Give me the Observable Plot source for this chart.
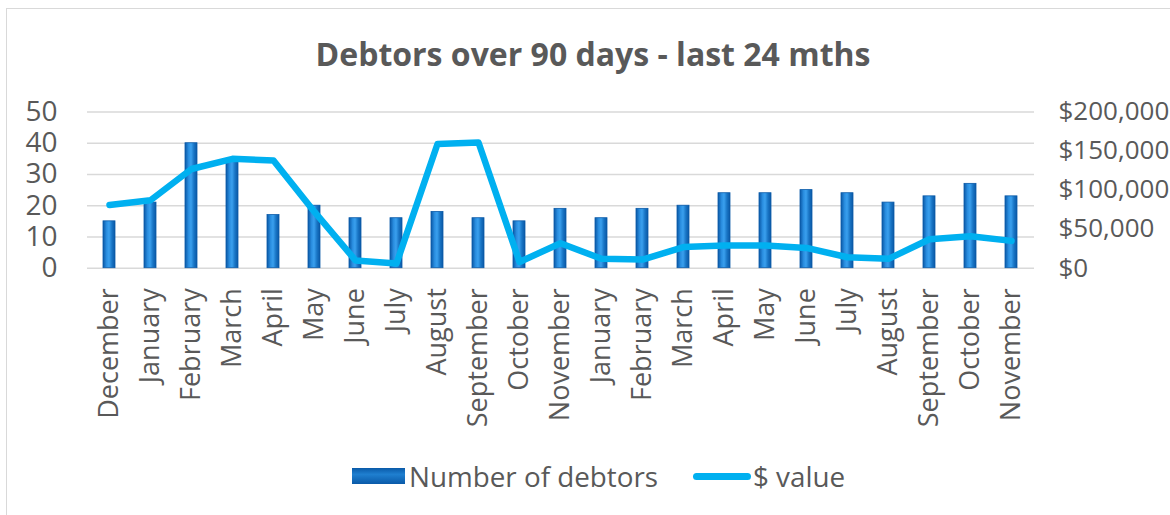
<!DOCTYPE html>
<html>
<head>
<meta charset="utf-8">
<script src="https://cdn.jsdelivr.net/npm/d3@7"></script>
<script src="https://cdn.jsdelivr.net/npm/@observablehq/plot@0.6"></script>
<style>
  html, body { margin: 0; padding: 0; background: #fff; }
  body { width: 1170px; height: 515px; overflow: hidden; position: relative; font-family: "Open Sans", sans-serif; color: #595959; }
  #frame { position: absolute; left: 6px; top: 8px; width: 1180px; height: 520px; border: 1.5px solid #d9d9d9; box-sizing: border-box; }
  #title { position: absolute; left: 8px; width: 1170px; top: 34px; text-align: center; font-size: 32px; font-weight: 700; line-height: 40px; color: #595959; }
  #chart { position: absolute; left: 0; top: 0; }
  .leg { position: absolute; font-size: 27.8px; line-height: 36px; color: #595959; top: 458px; }
  #sw1 { position: absolute; left: 352px; top: 468px; width: 53px; height: 16px; background: linear-gradient(to bottom, #0a5aa8, #1f7fd0 40%, #0a5aa8); }
  #sw2 { position: absolute; left: 693px; top: 473px; width: 58px; height: 7px; border-radius: 4px; background: #00b0f0; }
</style>
</head>
<body>
<div id="frame"></div>
<div id="chart"></div>
<div id="title">Debtors over 90 days - last 24 mths</div>
<div id="sw1"></div><div class="leg" style="left:409px">Number of debtors</div>
<div id="sw2"></div><div class="leg" style="left:753px">$ value</div>
<script>
const months = ["December","January","February","March","April","May","June","July","August","September","October","November","January","February","March","April","May","June","July","August","September","October","November"];
const debtors = [15,21,40,35,17,20,16,16,18,16,15,19,16,19,20,24,24,25,24,21,23,27,23];
const dollars = [81000,87000,127000,140000,138000,72000,10000,6000,159000,161000,8000,32000,12000,11000,27000,29000,29000,26000,14000,12000,37000,41000,35000];
const leftTicks = [0,10,20,30,40,50];
const rightTicks = [0,50000,100000,150000,200000];
const leftMax = 50, rightMax = 200000;

const ratio = leftMax / rightMax;
const idx = d3.range(months.length);
const rows = idx.map(i => ({i, n: debtors[i], v: dollars[i] * ratio}));

const plot = Plot.plot({
  width: 1170,
  height: 440,
  marginLeft: 87,
  marginRight: 136,
  marginTop: 111.5,
  marginBottom: 172.3,
  style: {fontFamily: "'Open Sans', sans-serif", color: "#595959", background: "transparent", overflow: "visible"},
  x: {type: "band", domain: idx, padding: 0.7, paddingOuter: 0.35, axis: null, label: null},
  y: {domain: [0, leftMax], axis: null, label: null},
  marks: [
    Plot.ruleY(leftTicks, {stroke: "#d9d9d9", strokeWidth: 1.5}),
    Plot.barY(rows, {x: "i", y: "n", fill: "url(#barGrad)", stroke: "#0a5aa8", strokeWidth: 0.8}),
    Plot.line(rows, {x: "i", y: "v", stroke: "#00b0f0", strokeWidth: 6.5, strokeLinejoin: "round", strokeLinecap: "round"}),
    Plot.axisY({anchor: "left", label: null, ticks: leftTicks, tickSize: 0, tickPadding: 30, fontSize: 28, fill: "#595959"}),
    Plot.axisY({anchor: "right", label: null, ticks: rightTicks.map(t => t * ratio), tickSize: 0, tickPadding: 24, fontSize: 26, fill: "#595959",
      tickFormat: d => "$" + d3.format(",")(Math.round(d / ratio))}),
    Plot.axisX({anchor: "bottom", label: null, tickSize: 0, tickPadding: 20, tickRotate: -90, fontSize: 27, fill: "#595959",
      tickFormat: i => months[i]})
  ]
});

const ns = "http://www.w3.org/2000/svg";
const defs = document.createElementNS(ns, "defs");
defs.innerHTML = `<linearGradient id="barGrad" x1="0" x2="1" y1="0" y2="0">
  <stop offset="0" stop-color="#0a58a6"/>
  <stop offset="0.3" stop-color="#2a8ee0"/>
  <stop offset="0.5" stop-color="#3aa0ee"/>
  <stop offset="0.75" stop-color="#1874c4"/>
  <stop offset="1" stop-color="#0a58a6"/>
</linearGradient>`;
plot.insertBefore(defs, plot.firstChild);
document.getElementById("chart").appendChild(plot);
</script>
</body>
</html>
